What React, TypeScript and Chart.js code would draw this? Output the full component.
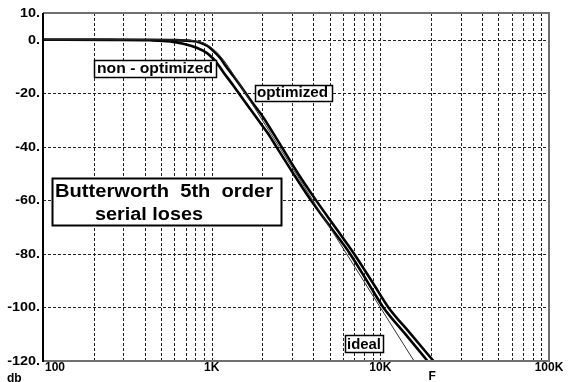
import React, { useEffect, useRef } from 'react';
import { Chart, registerables } from 'chart.js';

Chart.register(...registerables);

// ---------- data ----------
const FREQ_IDEAL = [100, 400, 600, 700, 800, 900, 1000, 1100, 1200, 1350, 1500, 1750, 2000, 2500, 3000, 4000, 5000, 7000, 10000, 13000, 15850];
const DB_IDEAL = [0, 0, -0.03, -0.1, -0.45, -1.3, -3.0, -5.4, -8.3, -13.1, -17.7, -24.3, -30.1, -39.8, -47.7, -60.2, -69.9, -84.5, -100, -111.4, -120];

const FREQ_OPT = [100, 430, 600, 744, 852, 955, 1047, 1120, 1227, 1407, 1577, 1767, 2024, 2268, 2600, 3200, 4160, 5500, 7000, 9000, 11170, 15000, 20660];
const DB_OPT = [0, 0, -0.1, -0.4, -1.0, -2.5, -4.75, -6.7, -10.3, -15.2, -19.6, -24, -29, -34, -40, -49.3, -60, -70.7, -80, -90.7, -100, -109.6, -120];

const FREQ_NON = [100, 250, 430, 566, 679, 815, 934, 1023, 1071, 1173, 1343, 1506, 1688, 1935, 2168, 2420, 3000, 3880, 5000, 6620, 8500, 10420, 14000, 19060];
const DB_NON = [0, -0.05, -0.2, -0.6, -1.5, -3.0, -4.9, -7.1, -8.6, -12.1, -17.1, -21.5, -25.8, -30.9, -35.2, -40, -49.3, -60, -69.5, -80, -91, -100, -109.8, -120];

const Y_TICKS = [10, 0, -20, -40, -60, -80, -100, -120];
const Y_LABELS = ['10.', '0.', '-20.', '-40.', '-60.', '-80.', '-100.', '-120.'];
const X_LABEL_VALUES = [100, 1000, 10000, 100000];
const X_LABELS = ['100', '1K', '10K', '100K'];
const X_DECADES = [100, 1000, 10000];
const X_MULTS = [1, 2, 3, 4, 5, 6, 7, 8, 9];

const X_TITLE = 'F';
const Y_TITLE = 'db';
const TITLE_LINES = ['Butterworth  5th  order', 'serial loses'];
const LABEL_NON = 'non - optimized';
const LABEL_OPT = 'optimized';
const LABEL_IDEAL = 'ideal';

// ---------- styling ----------
const FONT = '"Liberation Sans", Arial, sans-serif';

type Note = {
  lines: string[];
  f: number;
  db: number;
  w: number;
  h: number;
  size: number;
  border: number;
  texts: { dx: number; dy: number; w: number }[];
};

const NOTES: Note[] = [
  { lines: [LABEL_NON], f: 200.6, db: -7.56, w: 122, h: 17, size: 15, border: 1.5, texts: [{ dx: 3, dy: 12.5, w: 116 }] },
  { lines: [LABEL_OPT], f: 1807, db: -16.9, w: 77, h: 16, size: 15, border: 1.5, texts: [{ dx: 2, dy: 12, w: 71 }] },
  { lines: [LABEL_IDEAL], f: 6173, db: -110.3, w: 38, h: 17, size: 15, border: 1.5, texts: [{ dx: 2, dy: 14, w: 34 }] },
  { lines: TITLE_LINES, f: 113.1, db: -51.6, w: 229, h: 47, size: 18, border: 2, texts: [{ dx: 3, dy: 19, w: 218 }, { dx: 43, dy: 42, w: 108 }] },
];

function scaledText(ctx: CanvasRenderingContext2D, text: string, x: number, y: number, targetW?: number) {
  const w = ctx.measureText(text).width;
  const s = targetW ? targetW / w : 1;
  ctx.save();
  ctx.translate(x, y);
  ctx.scale(s, 1);
  ctx.textAlign = 'left';
  ctx.fillText(text, 0, 0);
  ctx.restore();
}

function rightScaledText(ctx: CanvasRenderingContext2D, text: string, xRight: number, y: number, factor: number) {
  const w = ctx.measureText(text).width * factor;
  ctx.save();
  ctx.translate(xRight - w, y);
  ctx.scale(factor, 1);
  ctx.textAlign = 'left';
  ctx.fillText(text, 0, 0);
  ctx.restore();
}

const customPlugin = {
  id: 'customDraw',
  beforeDraw(chart: any) {
    const ctx = chart.ctx as CanvasRenderingContext2D;
    ctx.save();
    ctx.fillStyle = '#ffffff';
    ctx.fillRect(0, 0, chart.width, chart.height);
    ctx.restore();
  },
  beforeDatasetsDraw(chart: any) {
    const ctx = chart.ctx as CanvasRenderingContext2D;
    const { left, right, top, bottom } = chart.chartArea;
    const xs = chart.scales.x;
    const ys = chart.scales.y;
    ctx.save();
    ctx.strokeStyle = '#222';
    ctx.lineWidth = 1;
    ctx.setLineDash([3, 2]);
    X_DECADES.forEach((d) => {
      X_MULTS.forEach((m) => {
        const v = d * m;
        if (v <= 100 || v >= 100000) return;
        const px = Math.round(xs.getPixelForValue(v)) + 0.5;
        ctx.beginPath();
        ctx.moveTo(px, top);
        ctx.lineTo(px, bottom);
        ctx.stroke();
      });
    });
    Y_TICKS.forEach((v) => {
      if (v === 10 || v === -120) return;
      const py = Math.round(ys.getPixelForValue(v)) + 0.5;
      ctx.beginPath();
      ctx.moveTo(left, py);
      ctx.lineTo(right, py);
      ctx.stroke();
    });
    ctx.restore();
  },
  afterDatasetsDraw(chart: any) {
    const ctx = chart.ctx as CanvasRenderingContext2D;
    const { left, right, top, bottom } = chart.chartArea;
    const xs = chart.scales.x;
    const ys = chart.scales.y;
    ctx.save();
    ctx.setLineDash([]);
    // frame
    ctx.strokeStyle = '#707070';
    ctx.lineWidth = 2;
    ctx.beginPath();
    ctx.moveTo(left, top);
    ctx.lineTo(right, top);
    ctx.lineTo(right, bottom);
    ctx.lineTo(left, bottom);
    ctx.stroke();
    ctx.strokeStyle = '#000';
    ctx.beginPath();
    ctx.moveTo(left, top);
    ctx.lineTo(left, bottom + 1);
    ctx.stroke();

    // tick labels
    ctx.fillStyle = '#000';
    ctx.font = `bold 12px ${FONT}`;
    ctx.textBaseline = 'alphabetic';
    Y_TICKS.forEach((v, i) => {
      const py = ys.getPixelForValue(v);
      rightScaledText(ctx, Y_LABELS[i], left - 3, py + 4, 1.2);
    });
    X_LABEL_VALUES.forEach((v, i) => {
      const px = xs.getPixelForValue(v);
      if (i === 0) {
        ctx.textAlign = 'left';
        ctx.fillText(X_LABELS[i], px + 2, bottom + 10);
      } else {
        ctx.textAlign = 'center';
        ctx.fillText(X_LABELS[i], px, bottom + 10);
      }
    });
    ctx.textAlign = 'center';
    ctx.fillText(X_TITLE, xs.getPixelForValue(20300), bottom + 19);
    ctx.textAlign = 'left';
    ctx.fillText(Y_TITLE, 7, bottom + 21);

    // annotation boxes
    NOTES.forEach((n) => {
      const bx = Math.round(xs.getPixelForValue(n.f));
      const by = Math.round(ys.getPixelForValue(n.db));
      ctx.fillStyle = '#fff';
      ctx.fillRect(bx, by, n.w, n.h);
      ctx.strokeStyle = '#000';
      ctx.lineWidth = n.border;
      ctx.strokeRect(bx + 0.5, by + 0.5, n.w, n.h);
      ctx.fillStyle = '#000';
      ctx.font = `bold ${n.size}px ${FONT}`;
      n.lines.forEach((line, i) => {
        const t = n.texts[i];
        scaledText(ctx, line, bx + t.dx, by + t.dy, t.w);
      });
    });
    ctx.restore();
  },
};

function toPoints(fs: number[], ds: number[]) {
  return fs.map((f, i) => ({ x: f, y: ds[i] }));
}

export default function App() {
  const canvasRef = useRef<HTMLCanvasElement | null>(null);

  useEffect(() => {
    const canvas = canvasRef.current;
    if (!canvas) return;
    const chart = new Chart(canvas, {
      type: 'line',
      data: {
        datasets: [
          {
            label: 'ideal',
            data: toPoints(FREQ_IDEAL, DB_IDEAL),
            borderColor: '#333',
            borderWidth: 1,
            pointRadius: 0,
            cubicInterpolationMode: 'monotone',
            fill: false,
          },
          {
            label: 'non-optimized',
            data: toPoints(FREQ_NON, DB_NON),
            borderColor: '#000',
            borderWidth: 2.6,
            pointRadius: 0,
            cubicInterpolationMode: 'monotone',
            fill: false,
          },
          {
            label: 'optimized',
            data: toPoints(FREQ_OPT, DB_OPT),
            borderColor: '#000',
            borderWidth: 2.6,
            pointRadius: 0,
            cubicInterpolationMode: 'monotone',
            fill: false,
          },
        ],
      },
      options: {
        responsive: false,
        animation: false,
        devicePixelRatio: 1,
        layout: { padding: { top: 13, right: 22, left: 0, bottom: 0 } },
        plugins: { legend: { display: false }, tooltip: { enabled: false } },
        events: [],
        scales: {
          x: {
            type: 'logarithmic',
            min: 100,
            max: 100000,
            grid: { display: false },
            border: { display: false },
            ticks: { display: false },
            afterFit: (scale: any) => {
              scale.height = 21;
            },
          },
          y: {
            type: 'linear',
            min: -120,
            max: 10,
            grid: { display: false },
            border: { display: false },
            ticks: { display: false },
            afterFit: (scale: any) => {
              scale.width = 43;
            },
          },
        },
      } as any,
      plugins: [customPlugin],
    });
    return () => chart.destroy();
  }, []);

  return (
    <div style={{ position: 'absolute', left: 0, top: 0, width: 571, height: 382, background: '#fff' }}>
      <canvas ref={canvasRef} width={571} height={382} style={{ display: 'block' }} />
    </div>
  );
}
